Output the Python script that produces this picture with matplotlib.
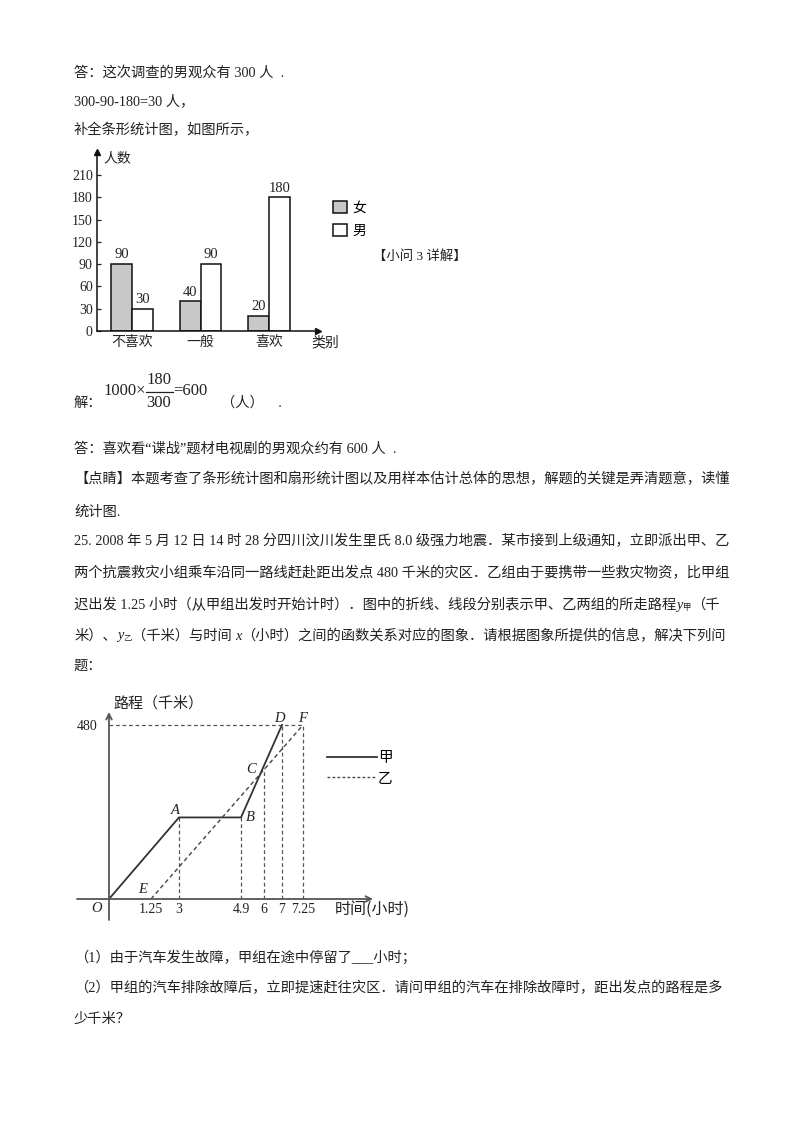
import numpy as np
import matplotlib
matplotlib.use('Agg')
import matplotlib.pyplot as plt
from matplotlib.lines import Line2D
from matplotlib.patches import Patch

# ---------------- data ----------------
bar_categories = ['不喜欢', '一般', '喜欢']
female_counts = [90, 40, 20]
male_counts = [30, 90, 180]
bar_yticks = [0, 30, 60, 90, 120, 150, 180, 210]
bar_legend = ['女', '男']

jia_time = [0, 3, 4.9, 7]
jia_dist = [0, 225, 225, 480]
yi_time = [1.25, 7.25]
yi_dist = [0, 480]
c_time, c_dist = 6, 362
time_ticks = [1.25, 3, 4.9, 6, 7, 7.25]
time_tick_labels = ['1.25', '3', '4.9', '6', '7', '7.25']
dist_ticks = [480]
line_legend = ['甲', '乙']

# schematic (non-uniform) spacing of the time axis as drawn in the figure
axis_knots_t = [-5, 0, 1.25, 3, 4.9, 6, 7, 7.25, 15]
axis_knots_u = [-25, 109, 151, 179, 241, 264, 282, 303, 511]

# ---------------- page setup ----------------
W, H = 800, 1132
fig = plt.figure(figsize=(W / 100, H / 100), dpi=100)
fig.patch.set_facecolor('white')

FAM = ['Liberation Serif', 'Noto Sans CJK SC']
CJK = ['Noto Sans CJK SC', 'DejaVu Sans']
SERIF = ['Liberation Serif']
FS = 10.3
TXT = '#222222'


def fx(x):
    return x / W


def fy(y):
    return 1 - y / H


def txt(x, y, s, size=FS, family=FAM, **kw):
    return fig.text(fx(x), fy(y), s, va='center', ha='left', fontsize=size,
                    family=family, color=TXT, **kw)


renderer = fig.canvas.get_renderer()


def width_of(t):
    return t.get_window_extent(renderer).width


def runs(x, y, parts):
    for s, kw in parts:
        size = kw.get('size', FS)
        dy = kw.get('dy', 0)
        t = fig.text(fx(x), fy(y + dy), s, va='center', ha='left', fontsize=size,
                     family=kw.get('family', FAM), style=kw.get('style', 'normal'),
                     color=TXT)
        x += width_of(t)


# ---------------- top text ----------------
txt(74, 73, '答：这次调查的男观众有 300 人  .')
txt(74, 101, '300-90-180=30 人，')
txt(74, 130, '补全条形统计图，如图所示，')

# ---------------- bar chart ----------------
ax1 = fig.add_axes([fx(97), fy(331), (318 - 97) / W, (331 - 152) / H])
x = np.arange(len(bar_categories))
bw = 0.3
b1 = ax1.bar(x - bw / 2, female_counts, bw, color='#c8c8c8', edgecolor='#111111', linewidth=1.1)
b2 = ax1.bar(x + bw / 2, male_counts, bw, color='white', edgecolor='#111111', linewidth=1.1)
for bars in (b1, b2):
    ax1.bar_label(bars, padding=2, fontsize=10.5, family=SERIF, color=TXT)
ax1.set_xlim(-0.511, 2.715)
ax1.set_ylim(0, 241)
ax1.set_yticks(bar_yticks)
ax1.set_yticklabels([str(v) for v in bar_yticks], family=SERIF, fontsize=10)
ax1.tick_params(axis='y', direction='in', length=3, width=0.9, pad=3, colors=TXT)
ax1.set_xticks(x)
ax1.set_xticklabels(bar_categories, family=CJK, fontsize=10)
ax1.tick_params(axis='x', length=0, pad=3, colors=TXT)
for s in ['top', 'right']:
    ax1.spines[s].set_visible(False)
for s in ['left', 'bottom']:
    ax1.spines[s].set_linewidth(1.1)
    ax1.spines[s].set_color('#111111')
ax1.plot(1, 0, '>', color='#111111', markersize=4, transform=ax1.get_yaxis_transform(), clip_on=False)
ax1.plot(0, 1, '^', color='#111111', markersize=4, transform=ax1.transAxes, clip_on=False)
ax1.patch.set_alpha(0)
txt(103, 158, '人数', size=10, family=CJK)
txt(311, 342, '类别', size=10, family=CJK)

fig.legend(handles=[Patch(facecolor='#c8c8c8', edgecolor='#111111', linewidth=1.1),
                    Patch(facecolor='white', edgecolor='#111111', linewidth=1.1)],
           labels=bar_legend, loc='upper left', bbox_to_anchor=(fx(333), fy(201)),
           frameon=False, handlelength=1.0, handleheight=1.0, handletextpad=0.4,
           labelspacing=0.62, borderpad=0, borderaxespad=0,
           prop={'family': CJK, 'size': 10})
txt(373, 257, '【小问 3 详解】', size=9.6)

# ---------------- formula ----------------
txt(74, 403, '解：')
FF = 12
fx0 = 103
t = txt(fx0, 391, '1000×', size=FF, family=SERIF)
fx0 += width_of(t) + 1
tn = fig.text(0, 0, '180', fontsize=FF, family=SERIF)
fw = width_of(tn)
tn.remove()
txt(fx0 + fw / 2, 380, '180', size=FF, family=SERIF).set_ha('center')
txt(fx0 + fw / 2, 403, '300', size=FF, family=SERIF).set_ha('center')
fig.add_artist(Line2D([fx(fx0 - 1), fx(fx0 + fw + 1)], [fy(391.5), fy(391.5)],
                      color=TXT, lw=0.9))
fx0 += fw + 2
txt(fx0, 391, '=600', size=FF, family=SERIF)
txt(221, 403, '（人）    .')

# ---------------- middle text ----------------
txt(74, 449, '答：喜欢看“谍战”题材电视剧的男观众约有 600 人  .')
txt(74, 479, '【点睛】本题考查了条形统计图和扇形统计图以及用样本估计总体的思想，解题的关键是弄清题意，读懂')
txt(74, 512, '统计图.')
txt(74, 541, '25. 2008 年 5 月 12 日 14 时 28 分四川汶川发生里氏 8.0 级强力地震．某市接到上级通知，立即派出甲、乙')
txt(74, 573, '两个抗震救灾小组乘车沿同一路线赶赴距出发点 480 千米的灾区．乙组由于要携带一些救灾物资，比甲组')
runs(74, 605, [('迟出发 1.25 小时（从甲组出发时开始计时）．图中的折线、线段分别表示甲、乙两组的所走路程', {}),
               ('y', {'style': 'italic', 'family': SERIF}),
               ('甲', {'size': 6, 'dy': 3}),
               ('（千', {})])
runs(74, 636, [('米）、', {}),
               ('y', {'style': 'italic', 'family': SERIF}),
               ('乙', {'size': 6, 'dy': 3}),
               ('（千米）与时间 ', {}),
               ('x', {'style': 'italic', 'family': SERIF}),
               ('（小时）之间的函数关系对应的图象．请根据图象所提供的信息，解决下列问', {})])
txt(74, 666, '题：')

# ---------------- line chart ----------------
fwd = lambda t: np.interp(t, axis_knots_t, axis_knots_u)
inv = lambda u: np.interp(u, axis_knots_u, axis_knots_t)

ax2 = fig.add_axes([fx(77), fy(920), (373 - 77) / W, (920 - 712) / H])
ax2.set_xscale('function', functions=(fwd, inv))
ax2.set_xlim(float(inv(77)), float(inv(373)))
ax2.set_ylim(-21 / 174 * 480, (899 - 712) / 174 * 480)
ax2.patch.set_alpha(0)
ax2.spines['bottom'].set_position(('data', 0))
ax2.spines['left'].set_position(('data', 0))
for s in ax2.spines.values():
    s.set_visible(False)

AX_C = '#555555'
ax2.annotate('', xy=(1, 0), xytext=(0, 0), xycoords=('axes fraction', 'data'),
             textcoords=('axes fraction', 'data'),
             arrowprops=dict(arrowstyle='->', lw=1.3, color=AX_C, shrinkA=0, shrinkB=0))
ax2.annotate('', xy=(0, 1), xytext=(0, 0), xycoords=('data', 'axes fraction'),
             textcoords=('data', 'axes fraction'),
             arrowprops=dict(arrowstyle='->', lw=1.3, color=AX_C, shrinkA=0, shrinkB=0))

DASH = (0, (3, 2.2))
guide_kw = dict(color='#555555', lw=0.9, linestyle=DASH)
# guide lines
ax2.plot([0, yi_time[-1]], [yi_dist[-1], yi_dist[-1]], **guide_kw)
ax2.plot([jia_time[1], jia_time[1]], [0, jia_dist[1]], **guide_kw)
ax2.plot([jia_time[2], jia_time[2]], [0, jia_dist[2]], **guide_kw)
ax2.plot([c_time, c_time], [0, c_dist], **guide_kw)
ax2.plot([jia_time[3], jia_time[3]], [0, jia_dist[3]], **guide_kw)
ax2.plot([yi_time[-1], yi_time[-1]], [0, yi_dist[-1]], **guide_kw)

ax2.plot(jia_time, jia_dist, color='#333333', lw=1.3, solid_joinstyle='miter')
ax2.plot(yi_time, yi_dist, color='#444444', lw=1.0, linestyle=DASH)

ax2.set_xticks(time_ticks)
ax2.set_xticklabels(time_tick_labels, family=SERIF, fontsize=10)
ax2.set_yticks(dist_ticks)
ax2.set_yticklabels([str(v) for v in dist_ticks], family=SERIF, fontsize=10)
ax2.tick_params(axis='x', length=0, pad=3, colors=TXT)
ax2.tick_params(axis='y', length=0, pad=8, colors=TXT)

lab_kw = dict(textcoords='offset points', family=SERIF, style='italic',
              fontsize=10.5, color=TXT, va='center', ha='center')
ax2.annotate('O', (0, 0), xytext=(-9, -7), **lab_kw)
ax2.annotate('E', (yi_time[0], yi_dist[0]), xytext=(-6, 7), **lab_kw)
ax2.annotate('A', (jia_time[1], jia_dist[1]), xytext=(-3, 5), **lab_kw)
ax2.annotate('B', (jia_time[2], jia_dist[2]), xytext=(7, 0), **lab_kw)
ax2.annotate('C', (c_time, c_dist), xytext=(-9, -1), **lab_kw)
ax2.annotate('D', (jia_time[3], jia_dist[3]), xytext=(-2, 5), **lab_kw)
ax2.annotate('F', (yi_time[1], yi_dist[1]), xytext=(0, 5), **lab_kw)

txt(113, 703, '路程（千米）', size=10.8, family=CJK)
txt(335, 909, '时间(小时)', size=11.5, family=CJK)

fig.legend(handles=[Line2D([], [], color='#333333', lw=1.3),
                    Line2D([], [], color='#444444', lw=1.0, linestyle=(0, (2, 1.6)))],
           labels=line_legend, loc='upper left', bbox_to_anchor=(fx(327), fy(751)),
           frameon=False, handlelength=3.4, handletextpad=0.1, labelspacing=0.45,
           borderpad=0, borderaxespad=0, prop={'family': CJK, 'size': 10.5})

# ---------------- bottom text ----------------
txt(74, 958, '（1）由于汽车发生故障，甲组在途中停留了___小时；')
txt(74, 988, '（2）甲组的汽车排除故障后，立即提速赶往灾区．请问甲组的汽车在排除故障时，距出发点的路程是多')
txt(74, 1019, '少千米？')

fig.savefig('out.png', dpi=100, facecolor='white')
